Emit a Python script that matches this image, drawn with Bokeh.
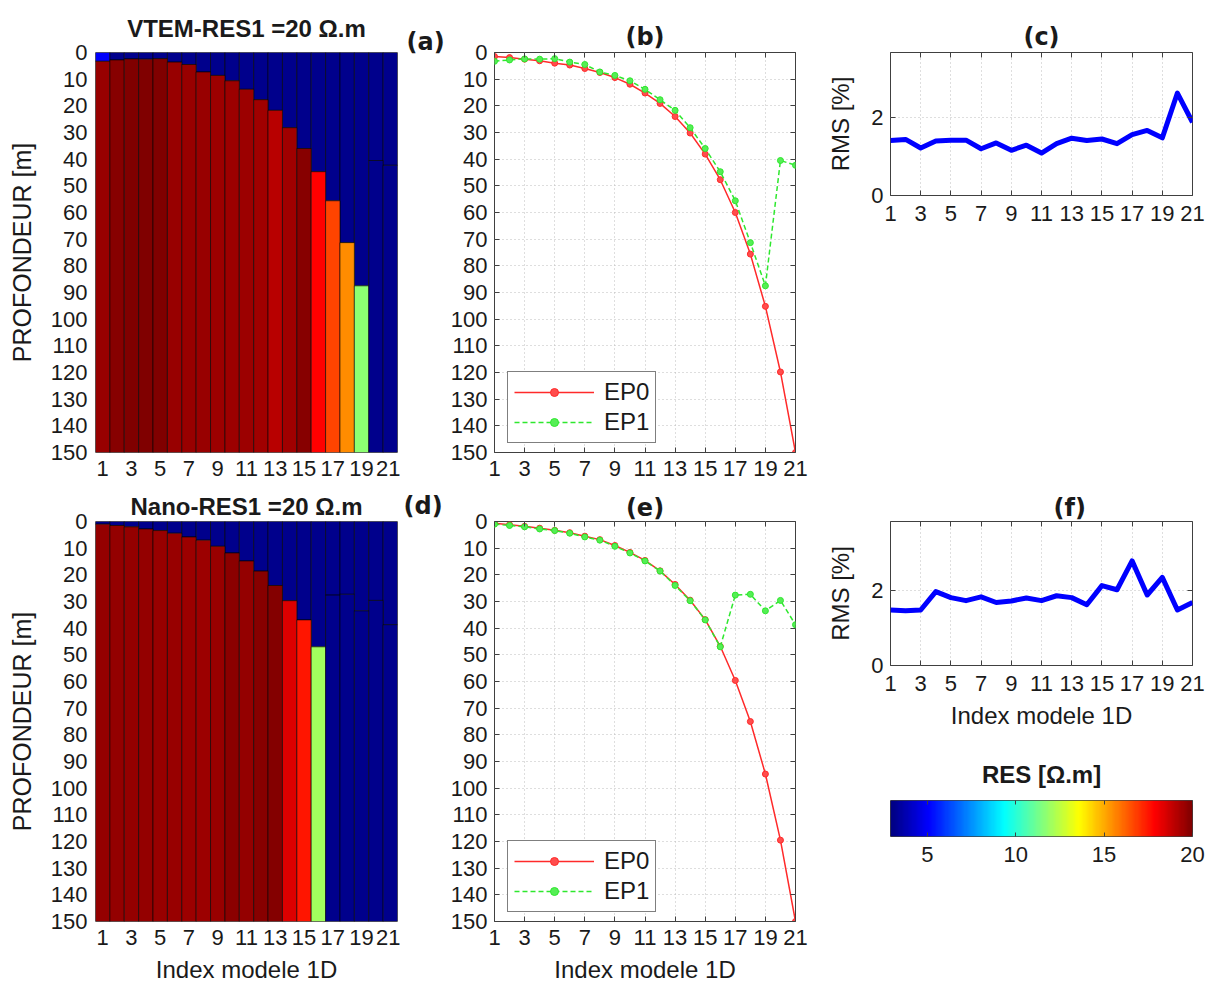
import numpy as np
from bokeh.plotting import figure
from bokeh.models import Range1d, FixedTicker, LinearAxis, LinearColorMapper, ColumnDataSource, Spacer
from bokeh.transform import linear_cmap
from bokeh.layouts import row, column
from bokeh.embed import file_html
from bokeh.resources import INLINE

# ---------------- data ----------------
idx = list(range(1, 22))
odd_ticks = list(range(1, 22, 2))
depth_ticks = list(range(0, 151, 10))
depth_max = 150

# interface depth of the true model (EP0) and of the inverted model (EP1)
ep0_vtem = [1.5, 1.9, 2.5, 3.1, 4.0, 4.7, 6.0, 7.5, 9.4, 11.9, 15.2, 19.1, 24.0, 30.2, 38.1, 47.7, 60.0, 75.6, 95.2, 119.8, 150.0]
ep1_vtem = [3.3, 2.8, 2.4, 2.5, 2.3, 3.6, 4.5, 7.3, 8.6, 10.6, 13.8, 17.7, 21.7, 28.2, 36.0, 44.7, 55.6, 71.3, 87.5, 40.5, 42.3]
ep0_nano = [0.7, 1.2, 1.8, 2.5, 3.3, 4.2, 5.5, 6.8, 9.0, 11.6, 14.6, 18.5, 23.6, 29.5, 36.8, 46.8, 59.6, 75.0, 94.7, 119.5, 150.0]
ep1_nano = [1.0, 1.5, 2.0, 2.8, 3.4, 4.4, 5.8, 7.0, 9.3, 11.8, 14.8, 18.6, 24.0, 29.7, 36.9, 47.0, 27.6, 27.3, 33.5, 29.6, 38.7]

# resistivity (Ohm.m) of layer 1 (top) and layer 2 (bottom) of the inverted models
res1_vtem = [5.0] + [3.16] * 20
res2_vtem = [19.55, 19.85, 19.95, 19.95, 19.95, 19.55, 19.55, 19.55, 19.5, 19.5, 19.5, 19.45, 19.05, 19.45, 19.85,
             17.85, 16.7, 15.5, 11.7, 3.16, 3.16]
res1_nano = [3.16] * 21
res2_nano = [19.6, 19.6, 19.6, 19.6, 19.55, 19.55, 19.5, 19.5, 19.55, 19.75, 19.6, 19.8, 19.9,
             18.4, 17.5, 12.0, 3.16, 3.16, 3.16, 3.16, 3.16]

rms_vtem = [1.41, 1.44, 1.22, 1.40, 1.42, 1.42, 1.20, 1.35, 1.16, 1.29, 1.09, 1.33, 1.47, 1.41, 1.45, 1.33, 1.56, 1.67, 1.48, 2.63, 1.88]
rms_nano = [1.48, 1.46, 1.48, 1.97, 1.81, 1.73, 1.83, 1.68, 1.72, 1.80, 1.73, 1.86, 1.81, 1.62, 2.13, 2.02, 2.79, 1.88, 2.35, 1.48, 1.68]
rms_ticks = [0, 2]
rms_max_vtem = 3.67
rms_max_nano = 3.84

res_ticks = [5, 10, 15, 20]
res_low, res_high = 2.92, 20.0

# ---------------- jet palette ----------------
t = np.linspace(0, 1, 256)
_r = np.clip(1.5 - np.abs(4 * t - 3), 0, 1)
_g = np.clip(1.5 - np.abs(4 * t - 2), 0, 1)
_b = np.clip(1.5 - np.abs(4 * t - 1), 0, 1)
jet = ["#%02x%02x%02x" % (int(round(255 * a)), int(round(255 * b_)), int(round(255 * c))) for a, b_, c in zip(_r, _g, _b)]
mapper = LinearColorMapper(palette=jet, low=res_low, high=res_high)

FONT = "Liberation Sans"
TXT = "#1a1a1a"
FRAME = "#404040"


def base_fig(w, h, l, r, t_, b, xr, yr, axes=True):
    kw = {} if axes else dict(x_axis_location=None, y_axis_location=None)
    p = figure(width=w, height=h, x_range=xr, y_range=yr, output_backend="svg", toolbar_location=None,
               min_border_left=l, min_border_right=r, min_border_top=t_, min_border_bottom=b, **kw)
    p.outline_line_color = FRAME
    p.outline_line_width = 1
    return p


def style_axis(ax, ticks, standoff=8, tick_in=5):
    ax.ticker = FixedTicker(ticks=ticks)
    ax.major_label_text_font = FONT
    ax.major_label_text_font_size = "22px"
    ax.major_label_text_color = TXT
    ax.major_label_standoff = standoff
    ax.axis_label_text_font = FONT
    ax.axis_label_text_font_size = "24px"
    ax.axis_label_text_font_style = "normal"
    ax.axis_label_text_color = TXT
    ax.axis_line_color = None
    ax.minor_tick_line_color = None
    ax.major_tick_in = tick_in
    ax.major_tick_out = 0
    ax.major_tick_line_color = FRAME


def tick_only_axis(p, ticks, side, tick_in=5):
    ax = LinearAxis()
    style_axis(ax, ticks, standoff=0, tick_in=tick_in)
    ax.major_label_text_font_size = "1px"
    ax.major_label_text_color = None
    p.add_layout(ax, side)
    return ax


def grid(p, xticks, yticks):
    p.xgrid.ticker = FixedTicker(ticks=xticks)
    p.ygrid.ticker = FixedTicker(ticks=yticks)
    for g in (p.xgrid, p.ygrid):
        g.grid_line_color = "#bdbdbd"
        g.grid_line_dash = "1 3"
        g.grid_line_width = 1


def title(p, text, font, standoff, align="center", offset=0):
    p.title.text = text
    p.title.align = align
    p.title.offset = offset
    p.title.text_font = font
    p.title.text_font_size = "24px"
    p.title.text_font_style = "bold"
    p.title.text_color = TXT
    p.title.standoff = standoff


def model_panel(h, t_, b, ep1, res1, res2, ttl, ttl_standoff, xlabel):
    p = base_fig(400, h, 95, 3, t_, b, Range1d(0.5, 21.5), Range1d(depth_max, 0))
    src = ColumnDataSource(dict(x=idx, d=ep1, r1=res1, r2=res2, zero=[0] * 21, bot=[depth_max] * 21))
    p.vbar(x="x", width=1, bottom="zero", top="d", source=src,
           fill_color=linear_cmap("r1", jet, res_low, res_high), line_color="black", line_alpha=0.6, line_width=1)
    p.vbar(x="x", width=1, bottom="d", top="bot", source=src,
           fill_color=linear_cmap("r2", jet, res_low, res_high), line_color="black", line_alpha=0.6, line_width=1)
    p.outline_line_color = "#8c8c8c"
    p.grid.grid_line_color = None
    xa, ya = p.xaxis[0], p.yaxis[0]
    style_axis(xa, odd_ticks, standoff=8, tick_in=0)
    style_axis(ya, depth_ticks, standoff=8, tick_in=0)
    ya.axis_label = "PROFONDEUR [m]"
    ya.axis_label_text_font_size = "25px"
    ya.axis_label_standoff = 12
    if xlabel:
        xa.axis_label = "Index modele 1D"
        xa.axis_label_standoff = 8
    title(p, ttl, FONT, ttl_standoff)
    return p


def letter_panel(h, t_, b, letter, standoff, offset):
    p = base_fig(47, h, 0, 0, t_, b, Range1d(0, 1), Range1d(0, 1), axes=False)
    p.outline_line_color = None
    p.grid.grid_line_color = None
    title(p, letter, "DejaVu Sans", standoff, align="left", offset=offset)
    return p


def depth_panel(h, t_, b, ep0, ep1, letter, standoff, xlabel):
    p = base_fig(368, h, 45, 20, t_, b, Range1d(1, 21), Range1d(depth_max, 0))
    grid(p, odd_ticks, depth_ticks)
    xa, ya = p.xaxis[0], p.yaxis[0]
    style_axis(xa, odd_ticks, standoff=8)
    style_axis(ya, depth_ticks, standoff=7)
    tick_only_axis(p, depth_ticks, "right")
    tick_only_axis(p, odd_ticks, "above")
    p.line(idx, ep0, line_color="#ff2a2a", line_width=1.5, legend_label="EP0")
    p.scatter(idx, ep0, size=6, fill_color="#ff4d4d", line_color="#ff2a2a", legend_label="EP0")
    p.line(idx, ep1, line_color="#2ee82e", line_width=1.5, line_dash="5 3", legend_label="EP1")
    p.scatter(idx, ep1, size=6, fill_color="#55ee55", line_color="#2ee82e", legend_label="EP1")
    if xlabel:
        xa.axis_label = "Index modele 1D"
        xa.axis_label_standoff = 8
    title(p, letter, "DejaVu Sans", standoff)
    lg = p.legend[0]
    lg.location = (13, 9)
    lg.margin = 0
    lg.padding = 6
    lg.spacing = 2
    lg.glyph_width = 80
    lg.glyph_height = 20
    lg.label_height = 20
    lg.label_standoff = 10
    lg.label_text_font = FONT
    lg.label_text_font_size = "24px"
    lg.label_text_color = TXT
    lg.border_line_color = "black"
    lg.border_line_width = 1
    lg.background_fill_alpha = 1
    return p


def rms_panel(h, t_, b, rms, ymax, xlabel):
    p = base_fig(393, h, 75, 16, t_, b, Range1d(1, 21), Range1d(0, ymax))
    grid(p, odd_ticks, rms_ticks)
    xa, ya = p.xaxis[0], p.yaxis[0]
    style_axis(xa, odd_ticks, standoff=10)
    style_axis(ya, rms_ticks, standoff=7)
    tick_only_axis(p, rms_ticks, "right")
    tick_only_axis(p, odd_ticks, "above")
    p.line(idx, rms, line_color="#0000ff", line_width=5, line_join="round")
    ya.axis_label = "RMS [%]"
    ya.axis_label_standoff = 14
    if xlabel:
        xa.axis_label = "Index modele 1D"
        xa.axis_label_standoff = 8
    return p


# ---------------- top row ----------------
fa = model_panel(487, 52, 35, ep1_vtem, res1_vtem, res2_vtem, "VTEM-RES1 =20 Ω.m", 22, False)
fa_l = letter_panel(487, 52, 35, "(a)", -6, 6)
fb = depth_panel(487, 52, 35, ep0_vtem, ep1_vtem, "(b)", 4, False)
fc = rms_panel(240, 52, 240 - 52 - 143, rms_vtem, rms_max_vtem, False)
title(fc, "(c)", "DejaVu Sans", 4)
top = row(fa, fa_l, fb, column(fc, Spacer(width=393, height=247)))

# ---------------- bottom row ----------------
fd = model_panel(498, 34, 64, ep1_nano, res1_nano, res2_nano, "Nano-RES1 =20 Ω.m", 4, True)
fd_l = letter_panel(498, 34, 64, "(d)", 4, 3)
fe = depth_panel(498, 34, 64, ep0_nano, ep1_nano, "(e)", 0, True)
ff = rms_panel(250, 34, 250 - 34 - 144, rms_nano, rms_max_nano, True)
title(ff, "(f)", "DejaVu Sans", 0, align="left", offset=163)

# colour bar
fcb = base_fig(393, 248, 73, 16, 63, 149, Range1d(res_low, res_high), Range1d(0, 1))
fcb.image(image=[np.array([np.linspace(res_low, res_high, 512)])], x=res_low, y=0,
          dw=res_high - res_low, dh=1, color_mapper=mapper)
fcb.grid.grid_line_color = None
fcb.yaxis.visible = False
style_axis(fcb.xaxis[0], res_ticks, standoff=10, tick_in=4)
tick_only_axis(fcb, res_ticks, "above", tick_in=4)
title(fcb, "RES [Ω.m]", FONT, 26)

bottom = row(fd, fd_l, fe, column(ff, fcb))
layout = column(top, bottom)
open("out.html", "w").write(file_html(layout, INLINE))
